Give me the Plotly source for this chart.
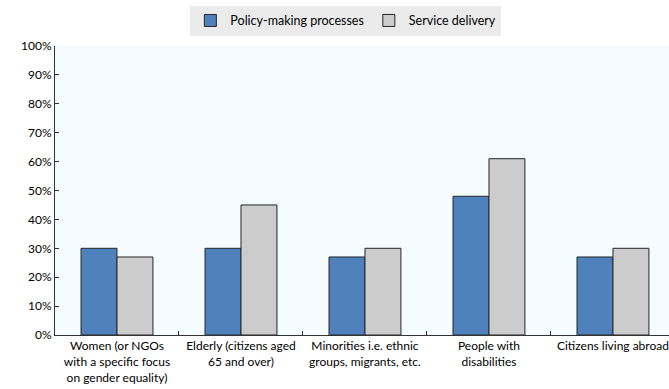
import plotly.graph_objects as go

categories = [
    "Women (or NGOs<br>with a specific focus<br>on gender equality)",
    "Elderly (citizens aged<br>65 and over)",
    "Minorities i.e. ethnic<br>groups, migrants, etc.",
    "People with<br>disabilities",
    "Citizens living abroad",
]
policy_making = [0.30, 0.30, 0.27, 0.48, 0.27]
service_delivery = [0.27, 0.45, 0.30, 0.61, 0.30]

fig = go.Figure()
fig.add_bar(x=categories, y=policy_making, name="Policy-making processes",
            marker=dict(color="#4F81BD", line=dict(color="#262626", width=1)))
fig.add_bar(x=categories, y=service_delivery, name="Service delivery",
            marker=dict(color="#CCCCCC", line=dict(color="#262626", width=1)))

fig.update_layout(
    width=669, height=389,
    margin=dict(l=55, r=0, t=46, b=54),
    paper_bgcolor="white",
    plot_bgcolor="#F4FCFF",
    barmode="group",
    bargap=0.42,
    bargroupgap=0,
    font=dict(family="Lato, Open Sans, sans-serif", size=12, color="black"),
    legend=dict(orientation="h", xref="container", yref="container",
                x=0.517, xanchor="center", y=0.985, yanchor="top",
                bgcolor="#EBEBEB", font=dict(size=12.5),
                itemwidth=30, traceorder="normal"),
    showlegend=True,
)
fig.update_xaxes(
    range=[-0.5, 4.452],
    showline=True, linecolor="#333333", linewidth=1,
    ticks="inside", tickson="boundaries", ticklen=4, tickcolor="#333333",
    showgrid=False, tickangle=0,
)
fig.update_yaxes(
    range=[0, 1], dtick=0.1, tickformat=".0%",
    showline=True, linecolor="#333333", linewidth=1,
    ticks="inside", ticklen=4, tickcolor="#333333",
    showgrid=False, zeroline=False,
)

fig.write_html("out.html")
